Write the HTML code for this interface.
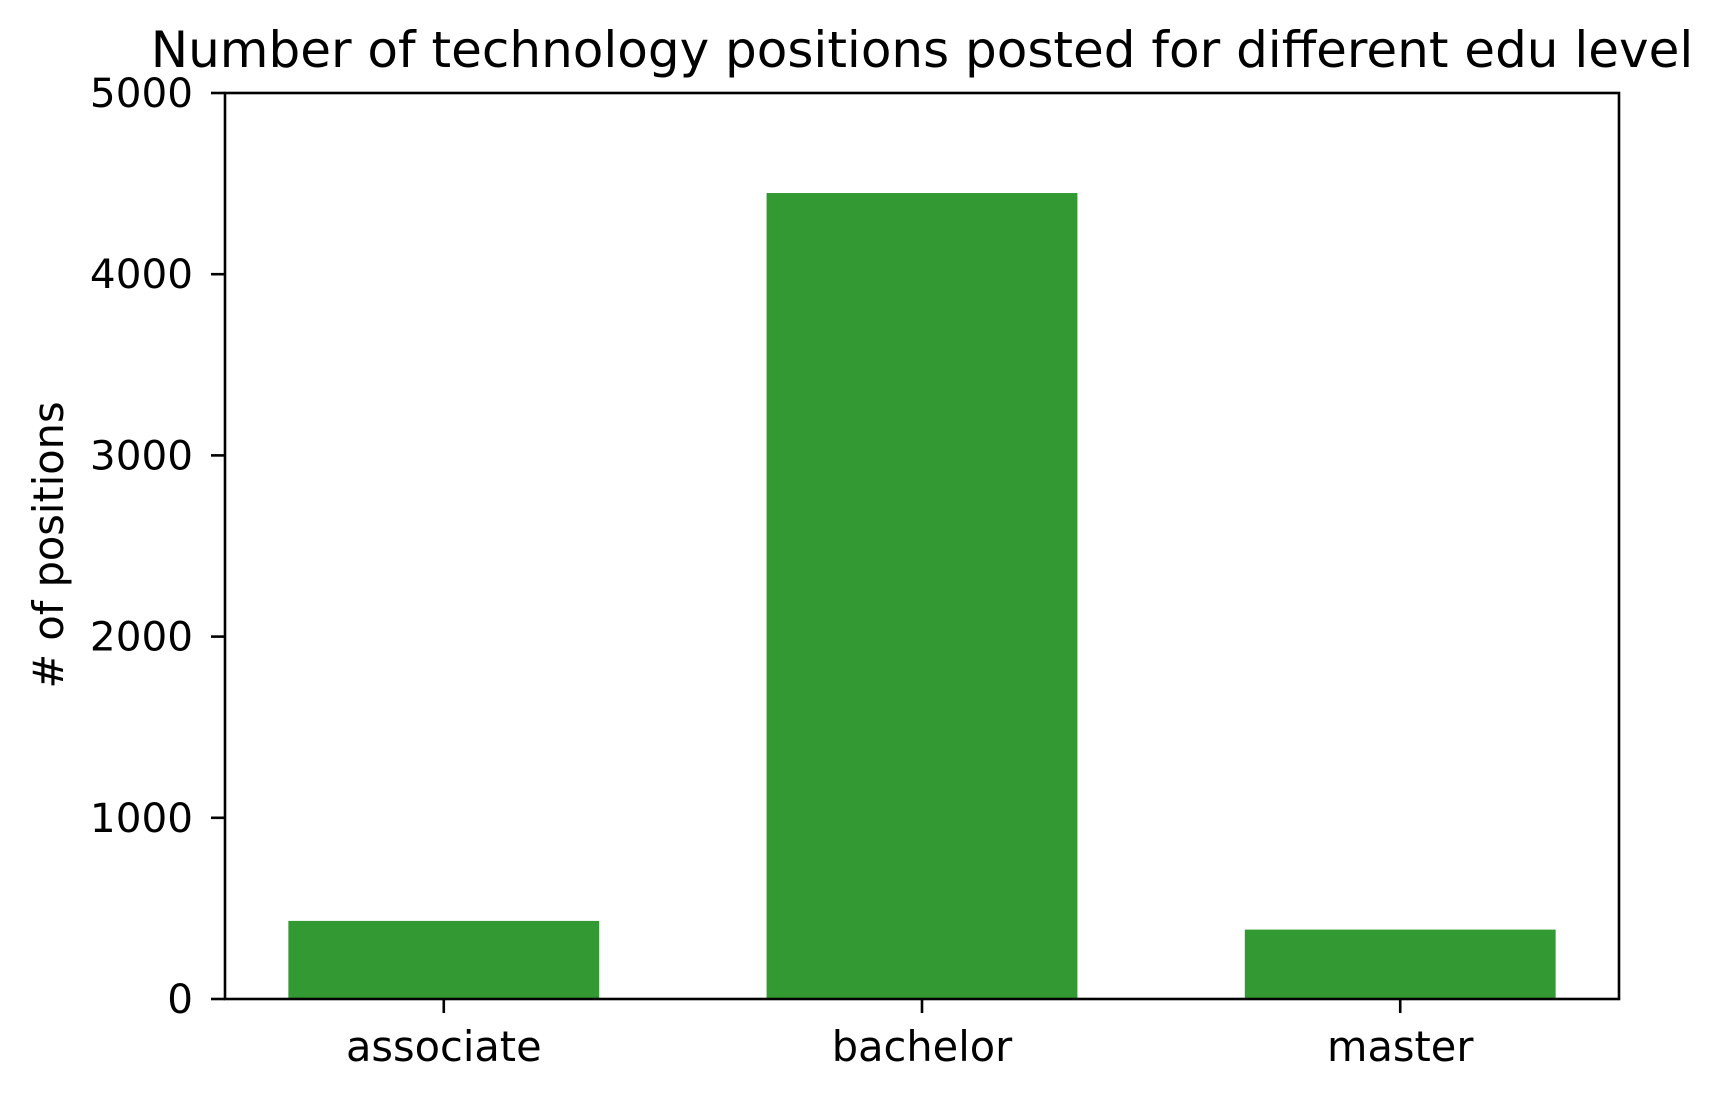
<!DOCTYPE html>
<html><head><meta charset="utf-8"><style>
html,body{margin:0;padding:0;background:#fff;}
svg{display:block;font-family:"DejaVu Sans","Liberation Sans",sans-serif;}
</style></head><body>
<svg id="chart" width="1724" height="1100" viewBox="0 0 1724 1100" xmlns="http://www.w3.org/2000/svg">
<text x="922" y="67" font-size="50" text-anchor="middle">Number of technology positions posted for different edu level</text>
<text transform="translate(63,545) rotate(-90)" font-size="41.5" text-anchor="middle">&#35; of positions</text>
<g id="bars"></g>
<g id="ticks"></g>
<rect x="225" y="93" width="1394" height="906" fill="none" stroke="#000" stroke-width="2.6"/>
</svg>
<script>
const categories = ["associate", "bachelor", "master"];
const values = [431, 4448, 383];
const yTicks = [0, 1000, 2000, 3000, 4000, 5000];
const yTickLabels = ["0", "1000", "2000", "3000", "4000", "5000"];

const L = 225, R = 1619, T = 93, B = 999;
const barW = 0.65;
const xmin = -barW/2 - (categories.length - 1 + barW) * 0.05;
const xmax = categories.length - 1 + barW/2 + (categories.length - 1 + barW) * 0.05;
function xs(v){ return L + (v - xmin) / (xmax - xmin) * (R - L); }
function ys(v){ return B - v / 5000 * (B - T); }
const NS = "http://www.w3.org/2000/svg";
const bars = document.getElementById('bars');
const ticks = document.getElementById('ticks');
categories.forEach((c, i) => {
  const r = document.createElementNS(NS, 'rect');
  
  
  const x0 = xs(i - barW/2), x1 = xs(i + barW/2);
  r.setAttribute('x', x0); r.setAttribute('width', x1 - x0);
  r.setAttribute('y', ys(values[i])); r.setAttribute('height', ys(0) - ys(values[i]));
  r.setAttribute('fill', '#339933');
  bars.appendChild(r);
  const t = document.createElementNS(NS, 'line');
  
  
  t.setAttribute('x1', xs(i)); t.setAttribute('x2', xs(i));
  t.setAttribute('y1', B); t.setAttribute('y2', B + 14);
  t.setAttribute('stroke', '#000'); t.setAttribute('stroke-width', '2.6');
  ticks.appendChild(t);
  const lb = document.createElementNS(NS, 'text');
  
  
  lb.setAttribute('x', xs(i)); lb.setAttribute('y', 1061);
  lb.setAttribute('font-size', '41.5'); lb.setAttribute('text-anchor', 'middle');
  lb.textContent = c;
  ticks.appendChild(lb);
});
yTicks.forEach((v, i) => {
  const t = document.createElementNS(NS, 'line');
  
  
  t.setAttribute('x1', L - 14); t.setAttribute('x2', L);
  t.setAttribute('y1', ys(v)); t.setAttribute('y2', ys(v));
  t.setAttribute('stroke', '#000'); t.setAttribute('stroke-width', '2.6');
  ticks.appendChild(t);
  const lb = document.createElementNS(NS, 'text');
  
  
  lb.setAttribute('x', 193); lb.setAttribute('y', ys(v) + 14);
  lb.setAttribute('font-size', '40.5'); lb.setAttribute('text-anchor', 'end');
  lb.textContent = yTickLabels[i];
  ticks.appendChild(lb);
});
</script>
</body></html>
